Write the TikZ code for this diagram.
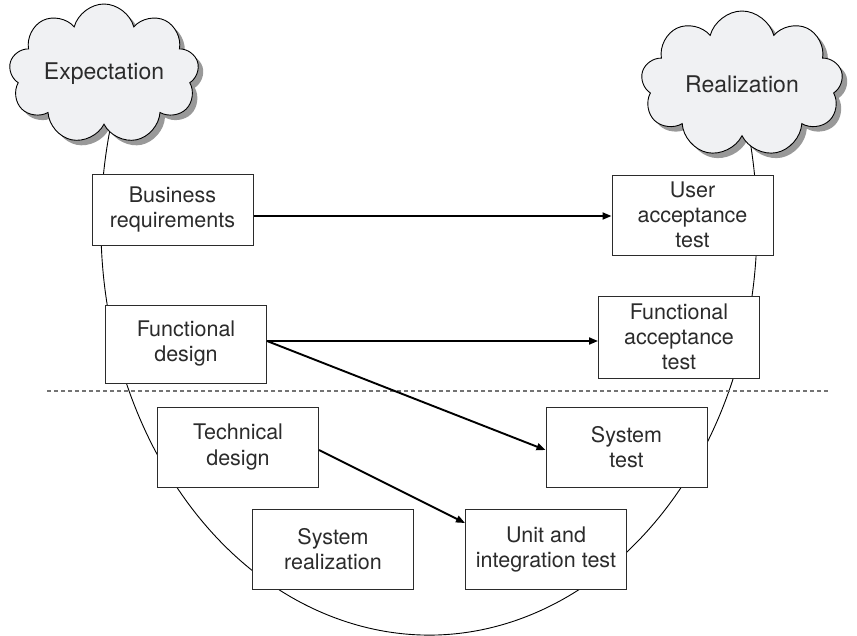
\documentclass[tikz,border=0pt]{standalone}
\usepackage{fontspec}
\setmainfont{TeX Gyre Heros}
\usetikzlibrary{shapes.symbols, shadows, arrows.meta, positioning, calc}
\definecolor{testo}{HTML}{2B2B2B}
\definecolor{nuvola}{HTML}{F0F1F3}

\begin{document}
\begin{tikzpicture}[
  x=1pt, y=-1pt,
  font=\fontsize{21.5}{25}\selectfont,
  fase/.style={draw=testo, fill=white, line width=1pt, align=center, text=testo,
               minimum width=161pt, minimum height=80pt, inner sep=0pt},
  sogno/.style={cloud, cloud puffs=9, cloud ignores aspect, draw=black, line width=0.9pt,
                fill=nuvola, text=testo, inner sep=0pt,
                font=\fontsize{23}{27}\selectfont,
                drop shadow={shadow xshift=5pt, shadow yshift=-5pt, fill=black!40, opacity=1}},
  freccia/.style={draw=black, line width=1.9pt, -{Triangle[length=9pt,width=7pt]}}
]
\useasboundingbox (0,0) rectangle (857,635);

% arco a U
\draw[line width=0.9pt] ([shift={(195:328 and 410)}]429,225)
  arc[start angle=195, end angle=-15, x radius=328, y radius=410];

% nuvole
\node[sogno, minimum width=190pt, minimum height=140pt] (E) at (104,74) {Expectation};
\node[sogno, minimum width=202pt, minimum height=146pt] (R) at (742,84) {Realization};

% linea tratteggiata
\draw[draw=black!55, line width=1.5pt, dash pattern=on 4pt off 3pt] (47,391) -- (828,391);

% fasi
\node[fase, minimum height=71pt] (BR) at (172.5,209.5) {Business\\ requirements};
\node[fase]                      (UA) at (692.5,215)   {User\\ acceptance\\ test};
\node[fase, minimum height=78pt] (FD) at (186,344)     {Functional\\ design};
\node[fase, minimum height=82pt] (FA) at (679,337)     {Functional\\ acceptance\\ test};
\node[fase]                      (TD) at (238,447)     {Technical\\ design};
\node[fase]                      (ST) at (626.5,447)   {System\\ test};
\node[fase]                      (SR) at (333,549.5)   {System\\ realization};
\node[fase]                      (UI) at (546,549.5)   {Unit and\\ integration test};

% collegamenti
\draw[freccia] ([yshift=-6.5pt]BR.east) -- ([yshift=-6.5pt]BR.east -| UA.west);
\draw[freccia] ([yshift=3pt]FD.east) -- ([yshift=3pt]FD.east -| FA.west);
\draw[freccia] ([yshift=3pt]FD.east) -- ([yshift=-3pt]ST.west);
\draw[freccia] ([yshift=-3pt]TD.east) -- ([yshift=-14pt]UI.north west);

\end{tikzpicture}
\end{document}
